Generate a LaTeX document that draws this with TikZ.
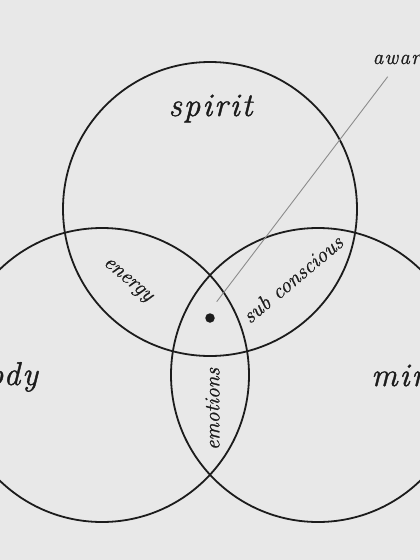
\documentclass[tikz,border=0pt]{standalone}
\usepackage{fontspec}
\setmainfont{Latin Modern Roman}
\usetikzlibrary{calc}
\definecolor{bg}{RGB}{232,232,232}
\definecolor{ink}{RGB}{28,28,28}
\definecolor{leadgray}{RGB}{140,140,140}
\begin{document}
\begin{tikzpicture}[x=1pt,y=-1pt,
  ring/.style={circle, draw=ink, line width=1.8pt, minimum size=294pt, inner sep=0pt},
  biglabel/.style={font=\fontsize{33}{33}\selectfont\itshape\addfontfeatures{LetterSpace=6,FakeBold=1.2}, text=ink, inner sep=0pt},
  smalllabel/.style={font=\fontsize{21.5}{21.5}\selectfont\itshape\addfontfeatures{FakeBold=0.9}, text=ink, inner sep=0pt},
  leadline/.style={draw=leadgray, line width=0.9pt}]
\fill[bg] (0,0) rectangle (420,560);
\useasboundingbox (0,0) rectangle (420,560);
\begin{scope}
\clip (0,0) rectangle (420,560);
\node[ring] (spiritc) at (210,209) {};
\node[ring] (bodyc) at (102,375) {};
\node[ring] (mindc) at (318,375) {};
\node[biglabel, anchor=base] (spirit) at (210.5,116) {spirit};
\node[biglabel, anchor=base east] (body) at (38,385) {body};
\node[biglabel, anchor=base west] (mind) at (371,386) {mind};
\node[biglabel, font=\fontsize{21}{21}\selectfont\itshape\addfontfeatures{LetterSpace=6,FakeBold=1}, anchor=base west] (aware) at (372.5,64) {awareness};
\node[smalllabel, rotate=-40] (energy) at (127,281) {energy};
\node[smalllabel, rotate=40] (subc) at (292.5,279) {sub conscious};
\node[smalllabel, rotate=90] (emo) at (212.5,409) {emotions};
\node[circle, fill=ink, inner sep=0pt, minimum size=9.5pt] (dot) at (210,318) {};
\coordinate (leadlow) at (216.7,301.7);
\coordinate (leadhigh) at (387.7,76.7);
\draw[leadline] (leadlow) -- (leadhigh);
\end{scope}
\end{tikzpicture}
\end{document}
